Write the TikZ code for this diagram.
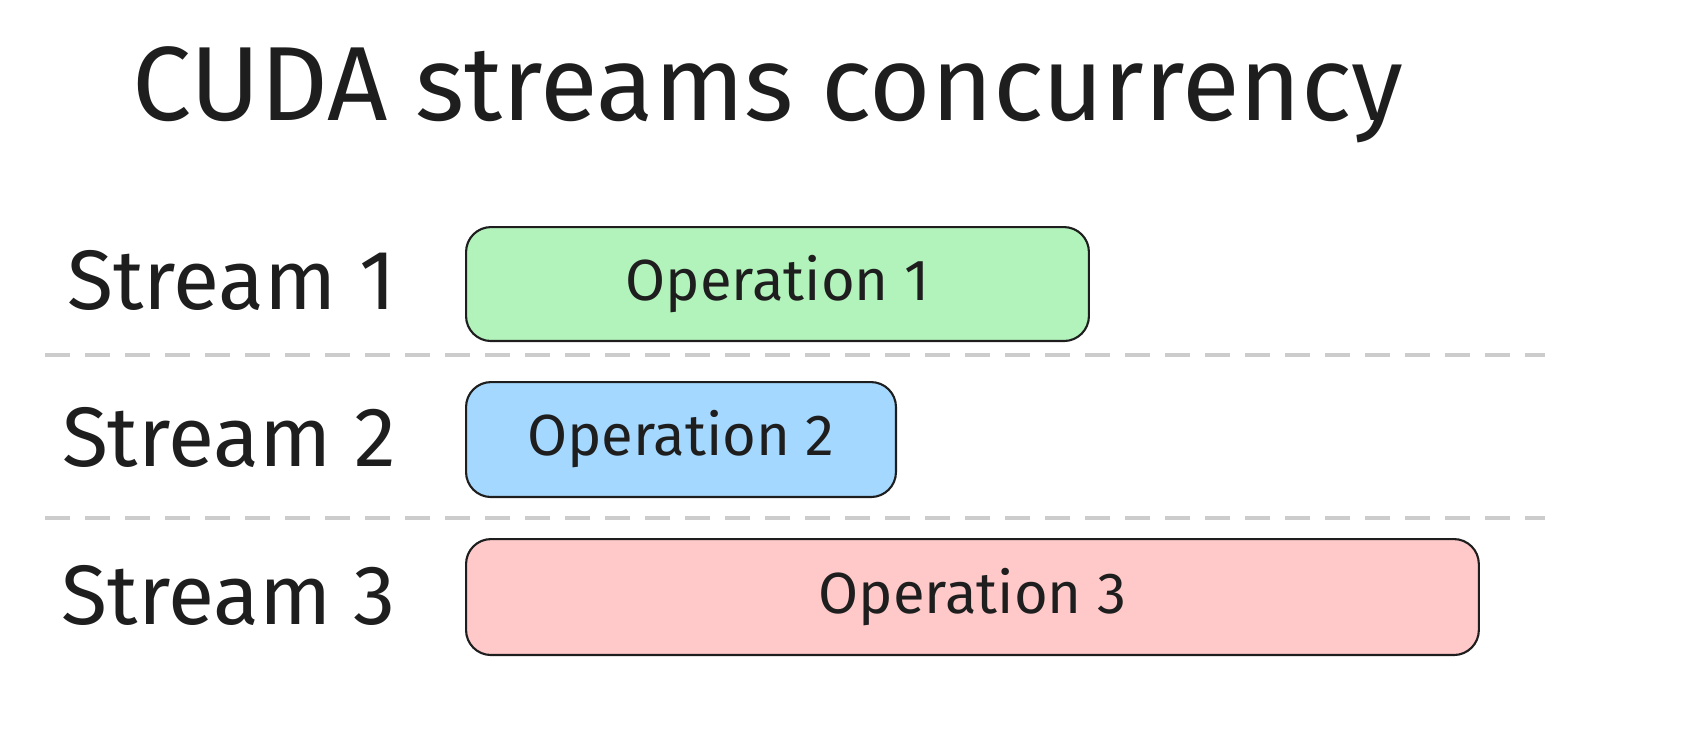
\documentclass[tikz,border=0pt]{standalone}
\usepackage{fontspec}
\setmainfont{Fira Sans}
\definecolor{opgreen}{HTML}{B2F2BB}
\definecolor{opblue}{HTML}{A5D8FF}
\definecolor{opred}{HTML}{FFC9C9}
\definecolor{ink}{HTML}{1E1E1E}
\begin{document}
\begin{tikzpicture}[x=0.02cm,y=-0.02cm,op/.style={draw=ink,line width=1.2pt,rounded corners=0.5cm,anchor=north west,inner sep=0pt,font=\fontsize{33}{36}\selectfont,text=ink},stream/.style={anchor=east,font=\fontsize{48}{52}\selectfont,text=ink},sep/.style={draw=black!20,line width=2.2pt,dash pattern=on 0.5cm off 0.3cm}]
\useasboundingbox (0,0) rectangle (1688,734);

\node[font=\fontsize{60}{66}\selectfont,text=ink] (title) at (768,95) {CUDA streams concurrency};

\node[stream] (s1) at (402,280) {Stream 1};
\node[stream] (s2) at (402,437) {Stream 2};
\node[stream] (s3) at (402,595) {Stream 3};

\node[op,fill=opgreen,minimum width=12.46cm,minimum height=2.28cm] (o1) at (465,226) {Operation 1};
\node[op,fill=opblue,minimum width=8.6cm,minimum height=2.3cm] (o2) at (465,381) {Operation 2};
\node[op,fill=opred,minimum width=20.26cm,minimum height=2.32cm] (o3) at (465,538) {Operation 3};

\coordinate (a1) at (45,355);
\coordinate (b1) at (1545,355);
\coordinate (a2) at (45,518);
\coordinate (b2) at (1545,518);
\draw[sep] (a1) -- (b1);
\draw[sep] (a2) -- (b2);
\end{tikzpicture}
\end{document}
